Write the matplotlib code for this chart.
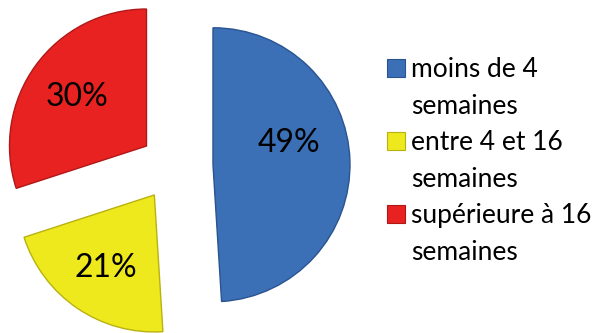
import matplotlib.pyplot as plt
from matplotlib.patches import Rectangle

plt.rcParams['font.family'] = ['Lato', 'DejaVu Sans']

# data
categories = ['moins de 4\nsemaines', 'entre 4 et 16\nsemaines', 'supérieure à 16\nsemaines']
shares = [49, 21, 30]
colors = ['#3b6fb6', '#eee91c', '#e82220']
edges = ['#2a5490', '#b8b210', '#b01818']

fig = plt.figure(figsize=(5.99, 3.33), dpi=100)
ax = fig.add_axes([0, 0, 1, 1])

# axes in pixel units, so explode is given in pixels too
wedges, texts, autotexts = ax.pie(shares, colors=colors, startangle=90, counterclock=False,
                                  explode=[39, 35, 34], radius=137, center=(174, 167),
                                  autopct='%d%%', pctdistance=0.63,
                                  textprops={'fontsize': 23, 'color': 'black'},
                                  wedgeprops={'linewidth': 1.0}, frame=False)
for w, e in zip(wedges, edges):
    w.set_edgecolor(e)
ax.set_xlim(0, 599)
ax.set_ylim(0, 333)
ax.set_aspect('equal')
ax.axis('off')

# nudge the labels a little to sit like the original
x, y = autotexts[0].get_position()
autotexts[0].set_position((x - 10, y + 19))
for t in autotexts[1:]:
    x, y = t.get_position()
    t.set_position((x, y - 2))

# legend drawn by hand: square beside the first line of each label
line_h = 36.6
y0 = 333 - 77
for i, (lab, c, e) in enumerate(zip(categories, colors, edges)):
    yb = y0 - 2 * line_h * i
    ax.add_patch(Rectangle((387, yb), 18, 18, facecolor=c, edgecolor=e, linewidth=0.8))
    for j, part in enumerate(lab.split('\n')):
        ax.text(411, yb - j * line_h, part, fontsize=19, va='baseline', ha='left')

fig.savefig('out.png', dpi=100)
